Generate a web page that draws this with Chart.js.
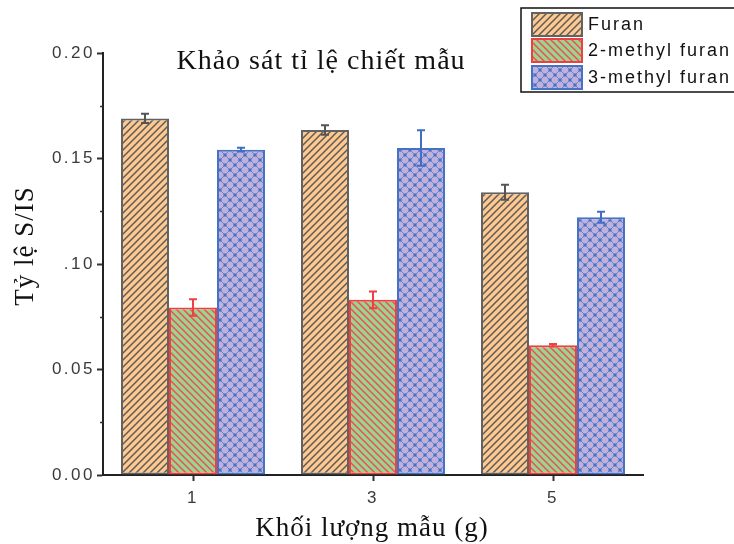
<!DOCTYPE html>
<html>
<head>
<meta charset="utf-8">
<script src="https://cdn.jsdelivr.net/npm/chart.js@4.4.1/dist/chart.umd.min.js"></script>
<style>
  html, body { margin: 0; padding: 0; background: #ffffff; }
  #wrap { width: 734px; height: 544px; position: relative; }
</style>
</head>
<body>
<div id="wrap"><canvas id="chart" width="734" height="544"></canvas></div>
<script>
// Sample mass (g) on the x axis
const categories = ['1', '3', '5'];

// Mean S/IS ratios per compound
const furanValues   = [0.169, 0.1635, 0.134];
const methyl2Values = [0.0794, 0.083, 0.0615];
const methyl3Values = [0.1542, 0.155, 0.1222];

// Standard deviations (error bars)
const furanErrors   = [0.0022, 0.0022, 0.0036];
const methyl2Errors = [0.0039, 0.0040, 0.0006];
const methyl3Errors = [0.0009, 0.0084, 0.0026];

const seriesNames = ['Furan', '2-methyl furan', '3-methyl furan'];

// Y tick labels as printed on the axis
const yTickLabels = ['0.00', '0.05', '.10', '0.15', '0.20'];
const yMinorTicks = [0.025, 0.075, 0.125, 0.175];

const chartTitle = 'Khảo sát tỉ lệ chiết mẫu';
const xTitle = 'Khối lượng mẫu (g)';
const yTitle = 'Tỷ lệ S/IS';

// ---- hatch patterns ----
function makePattern(size, bg, draw) {
  const c = document.createElement('canvas');
  c.width = size; c.height = size;
  const g = c.getContext('2d');
  g.fillStyle = bg;
  g.fillRect(0, 0, size, size);
  draw(g, size);
  return g.createPattern(c, 'repeat');
}

const furanPattern = makePattern(7, '#FFC88E', (g, s) => {
  g.strokeStyle = '#5c5c5c';
  g.lineWidth = 1.5;
  g.beginPath();
  g.moveTo(-1, s + 1); g.lineTo(s + 1, -1);
  g.moveTo(-1, 1); g.lineTo(1, -1);
  g.moveTo(s - 1, s + 1); g.lineTo(s + 1, s - 1);
  g.stroke();
});

const methyl2Pattern = makePattern(7, '#9BD392', (g, s) => {
  g.strokeStyle = '#EE5050';
  g.lineWidth = 1.5;
  g.beginPath();
  g.moveTo(-1, -1); g.lineTo(s + 1, s + 1);
  g.moveTo(s - 1, -1); g.lineTo(s + 1, 1);
  g.moveTo(-1, s - 1); g.lineTo(1, s + 1);
  g.stroke();
});

const methyl3Pattern = makePattern(10, '#BFB0DC', (g, s) => {
  g.strokeStyle = 'rgba(74,119,201,0.7)';
  g.lineWidth = 1;
  g.beginPath();
  g.moveTo(0, 0); g.lineTo(s, s);
  g.moveTo(0, s); g.lineTo(s, 0);
  g.stroke();
  g.fillStyle = '#4470C2';
  const pts = [[s / 2, s / 2], [0, 0], [s, 0], [0, s], [s, s]];
  pts.forEach(([x, y]) => g.fillRect(x - 1.5, y - 1.5, 3, 3));
});

const seriesStyles = [
  { fill: furanPattern,   border: '#626262', err: '#555555' },
  { fill: methyl2Pattern, border: '#EE4040', err: '#EE4040' },
  { fill: methyl3Pattern, border: '#4472C4', err: '#3F6EC4' }
];

const seriesValues = [furanValues, methyl2Values, methyl3Values];
const seriesErrors = [furanErrors, methyl2Errors, methyl3Errors];

const datasets = seriesNames.map((name, i) => ({
  label: name,
  data: seriesValues[i],
  backgroundColor: seriesStyles[i].fill,
  borderColor: seriesStyles[i].border,
  borderWidth: 2,
  borderSkipped: false,
  errors: seriesErrors[i],
  errorColor: seriesStyles[i].err,
  categoryPercentage: 0.8,
  barPercentage: 1.0
}));

const TICK_SPACING = '2.5px';

// error bars, minor ticks, titles and legend drawn on top
const decorations = {
  id: 'decorations',
  beforeDraw(chart) {
    chart.ctx.letterSpacing = '0px';
  },
  afterDatasetsDraw(chart) {
    const ctx = chart.ctx;
    const y = chart.scales.y;
    ctx.save();
    chart.data.datasets.forEach((ds, i) => {
      const meta = chart.getDatasetMeta(i);
      meta.data.forEach((bar, j) => {
        const v = ds.data[j], e = ds.errors[j];
        const yTop = y.getPixelForValue(v + e);
        const yBot = y.getPixelForValue(v - e);
        const cap = 4;
        ctx.strokeStyle = ds.errorColor;
        ctx.lineWidth = 2;
        ctx.beginPath();
        ctx.moveTo(bar.x, yTop); ctx.lineTo(bar.x, yBot);
        ctx.moveTo(bar.x - cap, yTop); ctx.lineTo(bar.x + cap, yTop);
        ctx.moveTo(bar.x - cap, yBot); ctx.lineTo(bar.x + cap, yBot);
        ctx.stroke();
      });
    });
    ctx.restore();
    // tick labels (drawn next, on layer z=1) use the wide letter spacing
    ctx.letterSpacing = TICK_SPACING;
  },
  afterDraw(chart) {
    const ctx = chart.ctx;
    const y = chart.scales.y;
    const area = chart.chartArea;
    ctx.letterSpacing = '0px';
    ctx.save();

    // minor ticks on the value axis
    ctx.strokeStyle = '#333333';
    ctx.lineWidth = 1.5;
    ctx.beginPath();
    yMinorTicks.forEach(v => {
      const py = Math.round(y.getPixelForValue(v)) + 0.5;
      ctx.moveTo(area.left - 3, py); ctx.lineTo(area.left, py);
    });
    ctx.stroke();

    // chart title
    ctx.fillStyle = '#111111';
    ctx.font = '28px "Liberation Serif", "Times New Roman", serif';
    ctx.letterSpacing = '1px';
    ctx.textAlign = 'center';
    ctx.textBaseline = 'alphabetic';
    ctx.fillText(chartTitle, 321, 69);

    // x axis title
    ctx.font = '27px "Liberation Serif", "Times New Roman", serif';
    ctx.fillText(xTitle, 372, 536);

    // y axis title
    ctx.save();
    ctx.translate(33, 246);
    ctx.rotate(-Math.PI / 2);
    ctx.fillText(yTitle, 0, 0);
    ctx.restore();

    // legend
    const lx = 521, ly = 8, lh = 84;
    ctx.strokeStyle = '#111111';
    ctx.lineWidth = 1.5;
    ctx.strokeRect(lx, ly, 240, lh);
    const rows = [13, 39, 66];
    ctx.font = '18px "Liberation Sans", Arial, sans-serif';
    ctx.letterSpacing = '2px';
    ctx.textAlign = 'left';
    ctx.textBaseline = 'middle';
    chart.data.datasets.forEach((ds, i) => {
      const ry = rows[i];
      ctx.fillStyle = ds.backgroundColor;
      ctx.fillRect(532, ry, 50, 23);
      ctx.strokeStyle = ds.borderColor;
      ctx.lineWidth = 2;
      ctx.strokeRect(532, ry, 50, 23);
      ctx.fillStyle = '#111111';
      ctx.fillText(ds.label, 588, ry + 12);
    });
    ctx.restore();
    ctx.letterSpacing = '0px';
  }
};

new Chart(document.getElementById('chart'), {
  type: 'bar',
  data: { labels: categories, datasets },
  options: {
    responsive: false,
    animation: false,
    devicePixelRatio: 1,
    layout: { padding: { left: 0, top: 53, right: 91, bottom: 0 } },
    plugins: {
      legend: { display: false },
      title: { display: false },
      tooltip: { enabled: false }
    },
    scales: {
      x: {
        type: 'category',
        grid: {
          offset: false,
          drawOnChartArea: false,
          drawTicks: true,
          tickLength: 6,
          tickWidth: 2,
          tickColor: '#333333'
        },
        border: { display: true, color: '#222222', width: 2 },
        ticks: {
          z: 1,
          padding: 7,
          color: '#3a3a3a',
          font: { family: '"Liberation Sans", Arial, sans-serif', size: 17 }
        },
        afterFit(scale) { scale.height = 69; }
      },
      y: {
        min: 0,
        max: 0.2,
        grid: {
          drawOnChartArea: false,
          drawTicks: true,
          tickLength: 6,
          tickWidth: 2,
          tickColor: '#333333'
        },
        border: { display: true, color: '#222222', width: 2 },
        ticks: {
          z: 1,
          stepSize: 0.05,
          padding: 2,
          color: '#3a3a3a',
          font: { family: '"Liberation Sans", Arial, sans-serif', size: 17 },
          callback: (value, index) => yTickLabels[index]
        },
        afterFit(scale) { scale.width = 103; }
      }
    }
  },
  plugins: [decorations]
});
</script>
</body>
</html>
